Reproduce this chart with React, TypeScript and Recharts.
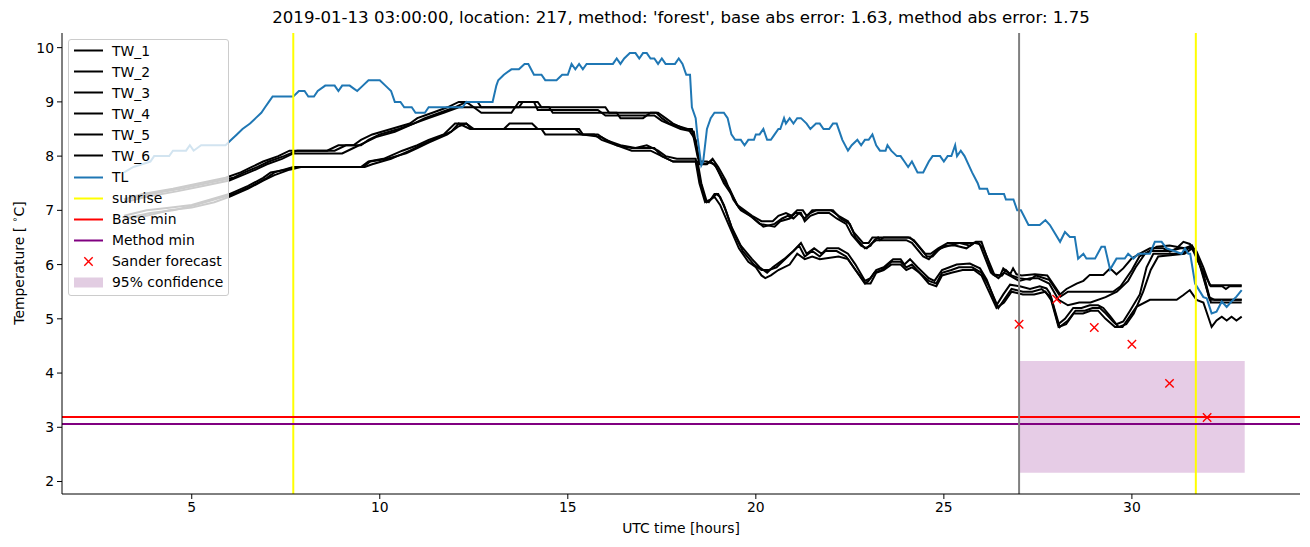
import React from 'react';
import {
  ComposedChart, Line, Scatter, XAxis, YAxis, ReferenceLine, ReferenceArea,
} from 'recharts';

// hours (UTC) vs temperature
const tw1: [number, number][] = [[3.2,7.2],[3.7,7.3],[4.5,7.4],[5.2,7.5],[5.9,7.6],[6.3,7.7],[6.6,7.8],[6.9,7.9],[7.3,8.0],[7.6,8.1],[8.6,8.1],[8.9,8.2],[9.3,8.2],[9.5,8.3],[9.8,8.4],[10.3,8.5],[10.8,8.6],[11.0,8.7],[11.4,8.8],[11.8,8.9],[12.1,9.0],[12.6,9.0],[12.7,8.9],[13.6,8.9],[13.7,9.0],[14.2,9.0],[14.3,8.9],[16.0,8.9],[16.1,8.8],[17.4,8.8],[17.6,8.7],[17.8,8.6],[18.1,8.5],[18.3,8.5],[18.45,8.0],[18.5,7.9],[18.7,7.9],[18.9,7.85],[19.1,7.6],[19.3,7.4],[19.5,7.1],[19.7,7.0],[19.9,6.9],[20.15,6.8],[20.45,6.8],[20.6,6.9],[20.8,6.95],[20.95,6.9],[21.1,7.0],[21.25,7.0],[21.35,6.9],[21.45,6.95],[21.6,7.0],[22.0,7.0],[22.2,6.9],[22.45,6.8],[22.6,6.6],[22.85,6.4],[23.0,6.4],[23.1,6.5],[23.2,6.5],[24.05,6.5],[24.2,6.45],[24.5,6.2],[24.65,6.2],[24.85,6.3],[25.1,6.4],[25.4,6.4],[25.7,6.35],[25.85,6.42],[26.0,6.42],[26.3,5.82],[26.5,5.8],[26.58,5.93],[26.76,5.82],[26.84,5.93],[26.93,5.82],[27.07,5.8],[27.42,5.82],[27.75,5.8],[27.85,5.7],[28.09,5.45],[28.26,5.55],[28.53,5.65],[28.71,5.7],[28.88,5.81],[29.24,5.81],[29.42,5.93],[29.59,5.82],[29.77,5.93],[29.99,6.11],[30.21,6.2],[30.48,6.3],[30.83,6.3],[31.01,6.24],[31.19,6.3],[31.37,6.42],[31.54,6.38],[31.72,6.24],[31.9,5.95],[32.07,5.62],[32.92,5.62]];
const tw2: [number, number][] = [[3.2,7.2],[3.9,7.3],[4.7,7.4],[5.4,7.5],[6.1,7.6],[6.4,7.7],[6.75,7.8],[7.05,7.9],[7.45,8.0],[7.8,8.1],[8.8,8.1],[9.1,8.2],[9.5,8.2],[9.7,8.3],[10.0,8.4],[10.5,8.5],[10.9,8.6],[11.2,8.7],[11.6,8.8],[12.0,8.9],[12.3,9.0],[12.5,8.9],[12.7,8.8],[13.5,8.8],[13.6,8.9],[14.5,8.9],[14.6,8.8],[16.3,8.8],[16.4,8.7],[17.0,8.7],[17.2,8.8],[17.35,8.8],[17.5,8.7],[17.7,8.6],[18.2,8.5],[18.4,8.3],[18.5,7.9],[18.65,7.85],[18.8,7.9],[18.95,7.8],[19.15,7.5],[19.35,7.3],[19.55,7.05],[19.75,6.95],[19.95,6.85],[20.2,6.7],[20.5,6.75],[20.7,6.85],[20.85,6.9],[21.0,6.85],[21.15,6.95],[21.3,6.85],[21.5,7.0],[22.05,7.0],[22.25,6.85],[22.5,6.75],[22.65,6.5],[22.9,6.3],[23.05,6.35],[23.15,6.45],[23.25,6.5],[23.3,6.45],[23.4,6.5],[24.1,6.5],[24.25,6.4],[24.55,6.15],[24.7,6.15],[24.9,6.3],[25.15,6.35],[25.43,6.4],[25.75,6.4],[25.9,6.4],[26.05,6.3],[26.35,5.8],[26.55,5.8],[26.65,5.9],[26.8,5.8],[27.0,5.75],[27.29,5.72],[27.45,5.8],[27.8,5.72],[28.1,5.41],[28.3,5.5],[28.6,5.5],[29.5,5.5],[29.7,5.6],[30.0,5.9],[30.2,6.15],[30.5,6.25],[31.0,6.25],[31.3,6.3],[31.6,6.3],[31.8,6.0],[32.1,5.6],[32.4,5.6],[32.5,5.55],[32.6,5.6],[32.92,5.6]];
const tw3: [number, number][] = [[3.2,7.15],[3.8,7.25],[4.6,7.35],[5.3,7.45],[6.0,7.55],[6.35,7.65],[6.7,7.75],[7.0,7.85],[7.4,7.95],[7.7,8.05],[9.0,8.05],[9.3,8.15],[9.6,8.25],[9.9,8.35],[10.4,8.45],[10.9,8.6],[11.3,8.7],[11.7,8.8],[12.1,8.9],[13.7,8.9],[13.8,9.0],[14.1,9.0],[14.2,8.85],[15.8,8.85],[16.0,8.75],[17.3,8.75],[17.5,8.65],[18.0,8.5],[18.35,8.45],[18.5,7.85],[18.7,7.85],[18.85,7.95],[19.0,7.8],[19.2,7.55],[19.4,7.2],[19.6,7.0],[19.85,6.9],[20.1,6.75],[20.5,6.7],[20.65,6.8],[20.9,6.85],[21.05,6.95],[21.2,6.95],[21.3,6.8],[21.45,6.9],[21.65,6.95],[21.95,6.95],[22.15,6.85],[22.4,6.75],[22.55,6.55],[22.8,6.35],[22.95,6.3],[23.1,6.4],[23.2,6.45],[24.0,6.45],[24.15,6.4],[24.45,6.15],[24.6,6.1],[24.8,6.25],[25.05,6.35],[25.3,6.35],[25.6,6.3],[25.8,6.4],[25.95,6.38],[26.25,5.85],[26.45,5.75],[26.6,5.85],[26.8,5.78],[27.0,5.7],[27.3,5.75],[27.5,5.75],[27.8,5.65],[28.05,5.35],[28.3,5.25],[28.6,5.3],[28.9,5.3],[29.3,5.4],[29.6,5.5],[29.9,5.7],[30.1,5.95],[30.35,6.2],[30.66,6.33],[31.0,6.35],[31.4,6.3],[31.6,6.35],[31.8,6.0],[32.05,5.4],[32.2,5.35],[32.5,5.35],[32.92,5.35]];
const tw4: [number, number][] = [[3.2,6.9],[3.8,7.0],[4.4,7.05],[5.0,7.1],[5.5,7.2],[6.0,7.3],[6.5,7.45],[6.9,7.6],[7.1,7.7],[7.5,7.75],[7.75,7.8],[9.5,7.8],[9.7,7.9],[10.1,7.95],[10.6,8.1],[11.0,8.2],[11.3,8.3],[11.7,8.4],[12.0,8.6],[12.3,8.6],[12.45,8.5],[13.3,8.5],[13.45,8.6],[14.05,8.6],[14.2,8.5],[15.3,8.5],[15.4,8.4],[15.8,8.4],[16.0,8.3],[16.4,8.2],[16.8,8.15],[17.1,8.2],[17.4,8.1],[17.6,8.0],[17.9,7.95],[18.4,7.95],[18.5,7.6],[18.65,7.2],[18.75,7.15],[18.9,7.3],[19.0,7.3],[19.15,7.1],[19.35,6.7],[19.6,6.35],[19.9,6.1],[20.1,5.95],[20.3,5.85],[20.45,5.95],[20.75,6.1],[21.0,6.25],[21.2,6.4],[21.35,6.2],[21.55,6.3],[21.75,6.2],[21.9,6.3],[22.2,6.3],[22.45,6.2],[22.65,6.0],[22.9,5.7],[23.05,5.75],[23.2,5.9],[23.4,5.95],[23.65,6.1],[23.85,6.1],[23.95,6.0],[24.1,6.1],[24.3,5.95],[24.6,5.75],[24.75,5.7],[24.95,5.9],[25.15,5.95],[25.34,6.0],[25.69,6.02],[25.96,5.93],[26.14,5.72],[26.4,5.25],[26.58,5.45],[26.76,5.63],[27.02,5.6],[27.29,5.55],[27.55,5.6],[27.73,5.56],[27.82,5.47],[28.04,4.9],[28.22,5.0],[28.44,5.2],[28.66,5.2],[28.88,5.25],[29.1,5.25],[29.24,5.2],[29.42,5.05],[29.59,4.9],[29.77,4.95],[29.95,5.15],[30.21,5.45],[30.39,5.95],[30.57,6.2],[31.35,6.2],[31.54,6.33],[31.72,6.2],[31.9,5.8],[32.07,5.35],[32.92,5.35]];
const tw5: [number, number][] = [[3.2,6.85],[3.9,6.95],[4.5,7.0],[5.1,7.1],[5.6,7.2],[6.1,7.3],[6.6,7.45],[7.0,7.6],[7.2,7.7],[7.7,7.8],[9.6,7.8],[9.8,7.85],[10.3,7.95],[10.8,8.1],[11.1,8.2],[11.4,8.3],[11.9,8.45],[12.1,8.6],[12.4,8.5],[15.2,8.5],[15.35,8.4],[15.9,8.35],[16.3,8.2],[16.7,8.15],[17.3,8.15],[17.5,8.0],[17.8,7.9],[18.45,7.9],[18.55,7.5],[18.7,7.15],[18.8,7.2],[18.95,7.3],[19.05,7.25],[19.2,7.0],[19.4,6.6],[19.65,6.25],[19.95,6.0],[20.15,5.9],[20.35,5.9],[20.55,5.95],[20.85,6.15],[21.15,6.35],[21.3,6.15],[21.5,6.25],[21.7,6.15],[21.85,6.25],[22.15,6.25],[22.4,6.15],[22.6,5.95],[22.9,5.65],[23.0,5.7],[23.15,5.85],[23.35,5.9],[23.6,6.05],[23.85,6.05],[24.0,5.95],[24.15,6.0],[24.35,5.85],[24.6,5.7],[24.8,5.65],[24.95,5.85],[25.2,5.9],[25.4,5.95],[25.75,5.95],[26.0,5.85],[26.2,5.6],[26.45,5.2],[26.65,5.4],[26.8,5.55],[27.1,5.5],[27.35,5.5],[27.6,5.55],[27.85,5.4],[28.08,4.85],[28.3,4.97],[28.5,5.15],[28.75,5.15],[28.95,5.2],[29.15,5.2],[29.3,5.1],[29.5,4.95],[29.65,4.85],[29.85,4.9],[30.05,5.1],[30.3,5.5],[30.5,5.9],[30.7,6.15],[31.4,6.2],[31.6,6.3],[31.75,6.15],[31.95,5.7],[32.1,5.3],[32.92,5.3]];
const tw6: [number, number][] = [[3.2,6.85],[3.8,6.9],[4.4,7.0],[5.0,7.05],[5.6,7.15],[6.0,7.25],[6.5,7.4],[6.9,7.55],[7.2,7.65],[7.6,7.75],[7.9,7.8],[9.55,7.8],[9.75,7.9],[10.2,7.95],[10.7,8.05],[11.0,8.15],[11.3,8.25],[11.8,8.4],[12.1,8.55],[12.3,8.6],[12.5,8.5],[14.3,8.5],[14.4,8.4],[15.7,8.4],[15.9,8.3],[16.3,8.2],[16.7,8.1],[17.2,8.1],[17.5,8.0],[17.8,7.9],[18.4,7.9],[18.5,7.5],[18.65,7.15],[18.8,7.2],[18.9,7.25],[19.05,7.1],[19.3,6.7],[19.55,6.3],[19.8,6.05],[20.0,5.95],[20.15,5.8],[20.25,5.75],[20.4,5.8],[20.6,5.9],[20.9,6.0],[21.1,6.2],[21.3,6.1],[21.5,6.15],[21.7,6.1],[22.2,6.15],[22.45,6.1],[22.65,5.9],[22.92,5.65],[23.05,5.65],[23.2,5.85],[23.4,5.9],[23.6,6.0],[23.85,6.0],[24.0,5.9],[24.15,5.95],[24.35,5.85],[24.6,5.65],[24.8,5.6],[24.95,5.8],[25.2,5.85],[25.5,5.9],[25.8,5.9],[26.0,5.8],[26.2,5.5],[26.4,5.2],[26.6,5.3],[26.8,5.5],[27.1,5.45],[27.4,5.45],[27.7,5.5],[27.85,5.35],[28.05,4.85],[28.25,4.9],[28.45,5.1],[28.7,5.1],[28.9,5.15],[29.1,5.15],[29.3,5.0],[29.55,4.85],[29.75,4.85],[29.95,5.05],[30.12,5.22],[30.48,5.35],[31.19,5.35],[31.37,5.44],[31.54,5.53],[31.72,5.35],[31.9,5.3],[32.12,4.85],[32.25,4.97],[32.39,5.04],[32.52,4.97],[32.65,5.04],[32.78,4.97],[32.92,5.04]];
const tl: [number, number][] = [[3.2,7.7],[3.45,7.8],[3.9,7.9],[4.0,8.0],[4.4,8.0],[4.5,8.1],[4.85,8.1],[4.95,8.2],[5.05,8.1],[5.25,8.2],[5.9,8.2],[6.05,8.3],[6.2,8.4],[6.35,8.5],[6.55,8.6],[6.7,8.7],[6.85,8.8],[6.95,8.9],[7.05,9.0],[7.15,9.1],[7.7,9.1],[7.85,9.2],[8.0,9.2],[8.1,9.1],[8.25,9.1],[8.35,9.2],[8.55,9.3],[8.8,9.3],[8.9,9.2],[9.0,9.3],[9.2,9.3],[9.3,9.25],[9.4,9.2],[9.55,9.3],[9.7,9.4],[10.0,9.4],[10.15,9.3],[10.3,9.2],[10.4,9.0],[10.55,9.0],[10.65,8.9],[10.85,8.9],[10.95,8.8],[11.2,8.8],[11.3,8.9],[12.2,8.9],[12.3,9.0],[13.0,9.0],[13.1,9.3],[13.15,9.4],[13.3,9.5],[13.5,9.6],[13.7,9.6],[13.85,9.7],[13.95,9.7],[14.1,9.5],[14.3,9.5],[14.4,9.4],[14.7,9.4],[14.85,9.5],[15.0,9.5],[15.1,9.7],[15.2,9.6],[15.3,9.7],[15.4,9.6],[15.5,9.7],[16.2,9.7],[16.3,9.8],[16.4,9.7],[16.5,9.8],[16.65,9.9],[16.8,9.9],[16.9,9.8],[17.0,9.9],[17.1,9.9],[17.2,9.8],[17.3,9.8],[17.4,9.7],[17.5,9.8],[17.6,9.7],[17.85,9.7],[17.95,9.8],[18.05,9.7],[18.15,9.5],[18.25,9.5],[18.3,8.9],[18.4,8.7],[18.45,8.35],[18.55,7.83],[18.6,7.9],[18.7,8.5],[18.8,8.7],[18.9,8.8],[19.15,8.8],[19.25,8.7],[19.35,8.4],[19.45,8.3],[19.6,8.3],[19.7,8.2],[19.8,8.3],[19.95,8.3],[20.0,8.4],[20.1,8.4],[20.2,8.5],[20.3,8.3],[20.4,8.3],[20.5,8.4],[20.6,8.5],[20.65,8.5],[20.75,8.7],[20.8,8.6],[20.9,8.7],[21.0,8.6],[21.1,8.7],[21.2,8.7],[21.35,8.6],[21.45,8.5],[21.6,8.6],[21.7,8.6],[21.8,8.5],[21.95,8.5],[22.05,8.6],[22.15,8.6],[22.3,8.3],[22.45,8.1],[22.55,8.2],[22.7,8.3],[22.8,8.2],[22.9,8.3],[23.0,8.3],[23.1,8.4],[23.2,8.2],[23.3,8.1],[23.45,8.1],[23.5,8.2],[23.6,8.1],[23.75,8.0],[23.85,8.0],[23.95,7.9],[24.05,7.8],[24.15,7.9],[24.3,7.7],[24.45,7.7],[24.6,7.9],[24.7,8.0],[24.9,8.0],[25.0,7.9],[25.1,8.0],[25.2,8.0],[25.3,8.2],[25.35,8.0],[25.45,8.1],[25.55,8.0],[25.75,7.7],[25.9,7.5],[25.95,7.4],[26.15,7.4],[26.2,7.3],[26.6,7.3],[26.65,7.2],[26.85,7.2],[26.95,7.0],[27.05,7.0],[27.25,6.73],[27.55,6.73],[27.7,6.82],[27.82,6.73],[28.09,6.42],[28.22,6.6],[28.35,6.51],[28.48,6.51],[28.57,6.11],[28.71,6.2],[28.79,6.11],[29.02,6.11],[29.19,6.33],[29.28,6.33],[29.42,5.91],[29.59,6.11],[29.81,6.11],[29.9,6.2],[30.04,6.11],[30.17,6.2],[30.48,6.2],[30.61,6.42],[30.79,6.42],[30.92,6.3],[31.32,6.2],[31.41,6.3],[31.5,6.2],[31.55,6.2],[31.68,5.65],[31.9,5.4],[31.99,5.38],[32.12,5.1],[32.25,5.13],[32.39,5.32],[32.52,5.22],[32.65,5.32],[32.78,5.41],[32.92,5.53]];

const forecast: [number, number][] = [[27, 4.9], [28, 5.36], [29, 4.84], [30, 4.53], [31, 3.81], [32, 3.18]];
const sunrise = [7.7, 31.7];
const forecastStart = 27.0;
const baseMin = 3.19;
const methodMin = 3.06;
const confidenceHours = [27.0, 33.0];
const confidenceBand = [2.16, 4.22];

const xTicks = [5, 10, 15, 20, 25, 30];
const yTicks = [2, 3, 4, 5, 6, 7, 8, 9, 10];
const twNames = ['TW_1', 'TW_2', 'TW_3', 'TW_4', 'TW_5', 'TW_6'];
const twSeries = [tw1, tw2, tw3, tw4, tw5, tw6];

const title = "2019-01-13 03:00:00, location: 217, method: 'forest', base abs error: 1.63, method abs error: 1.75";

const FONT = '"DejaVu Sans", sans-serif';
const toPts = (a: [number, number][]) => a.map(([x, y]) => ({ x, y }));

const XMark = (props: any) => {
  const { cx, cy } = props;
  const s = 4.2;
  return (
    <path d={`M${cx - s},${cy - s}L${cx + s},${cy + s}M${cx - s},${cy + s}L${cx + s},${cy - s}`}
      stroke="#ff0000" strokeWidth={1.4} fill="none" />
  );
};

const legendItems = [
  ...twNames.map((n) => ({ name: n, kind: 'line', color: '#000000' })),
  { name: 'TL', kind: 'line', color: '#1f77b4' },
  { name: 'sunrise', kind: 'line', color: '#ffff00' },
  { name: 'Base min', kind: 'line', color: '#ff0000' },
  { name: 'Method min', kind: 'line', color: '#800080' },
  { name: 'Sander forecast', kind: 'x', color: '#ff0000' },
  { name: '95% confidence', kind: 'patch', color: '#e2cde2' },
];

export default function App() {
  const tick = { fill: '#000', fontSize: 13.9, fontFamily: FONT };
  return (
    <div style={{ position: 'relative', width: 1294, height: 531, fontFamily: FONT }}>
      <div style={{ position: 'absolute', left: 54, width: 1238, top: 0, textAlign: 'center', fontSize: 16.6, color: '#000', lineHeight: '20px' }}>
        {title}
      </div>
      <div style={{ position: 'absolute', left: 54, width: 1238, top: 512, textAlign: 'center', fontSize: 13.9, color: '#000' }}>
        UTC time [hours]
      </div>
      <div style={{ position: 'absolute', left: 10, top: 255, width: 0, height: 0 }}>
        <div style={{ position: 'absolute', transform: 'translate(-50%, -50%) rotate(-90deg)', whiteSpace: 'nowrap', fontSize: 13.9, color: '#000' }}>
          Temperature [ <sup style={{ fontSize: 9.5 }}>∘</sup>C]
        </div>
      </div>
      <ComposedChart width={1294} height={531} margin={{ top: 25, right: 2, bottom: 15, left: 4 }}>
        <XAxis dataKey="x" type="number" domain={[1.55, 34.47]} ticks={xTicks} allowDataOverflow
          height={30} tickSize={5} tickMargin={3} tick={tick} stroke="#000" strokeWidth={1} />
        <XAxis xAxisId="top" orientation="top" type="number" domain={[1.55, 34.47]} height={0}
          tick={false} tickLine={false} stroke="#000" />
        <YAxis type="number" domain={[1.77, 10.27]} ticks={yTicks} allowDataOverflow width={50}
          tickSize={5} tickMargin={3} tick={tick} stroke="#000" />
        <YAxis yAxisId="right" orientation="right" type="number" domain={[1.77, 10.27]} width={0}
          tick={false} tickLine={false} stroke="#000" />
        <ReferenceArea x1={confidenceHours[0]} x2={confidenceHours[1]} y1={confidenceBand[0]} y2={confidenceBand[1]}
          fill="#800080" fillOpacity={0.2} stroke="none" ifOverflow="hidden" />
        {twSeries.map((s, i) => (
          <Line key={twNames[i]} data={toPts(s)} dataKey="y" stroke="#000000" strokeWidth={2}
            dot={false} isAnimationActive={false} />
        ))}
        <Line data={toPts(tl)} dataKey="y" stroke="#1f77b4" strokeWidth={2} dot={false} isAnimationActive={false} />
        {sunrise.map((h) => (
          <ReferenceLine key={h} x={h} stroke="#ffff00" strokeWidth={2} />
        ))}
        <ReferenceLine y={baseMin} stroke="#ff0000" strokeWidth={2} />
        <ReferenceLine y={methodMin} stroke="#800080" strokeWidth={2} />
        <ReferenceLine x={forecastStart} stroke="#808080" strokeWidth={2} />
        <Scatter data={toPts(forecast)} dataKey="y" shape={<XMark />} isAnimationActive={false} />
      </ComposedChart>
      <div style={{
        position: 'absolute', left: 60, top: 31, width: 159, padding: '0 0 2px 0',
        background: 'rgba(255,255,255,0.8)', border: '1px solid #cccccc', borderRadius: 3,
      }}>
        {legendItems.map((it) => (
          <div key={it.name} style={{ height: 21.08, display: 'flex', alignItems: 'center', fontSize: 13.9, color: '#000' }}>
            <svg width={43} height={21} style={{ flex: 'none' }}>
              {it.kind === 'line' && <line x1={5} x2={34} y1={10.5} y2={10.5} stroke={it.color} strokeWidth={2} />}
              {it.kind === 'x' && <path d="M15.3,6.3L23.7,14.7M15.3,14.7L23.7,6.3" stroke={it.color} strokeWidth={1.4} />}
              {it.kind === 'patch' && <rect x={5} y={5.5} width={29} height={10} fill={it.color} />}
            </svg>
            <span>{it.name}</span>
          </div>
        ))}
      </div>
    </div>
  );
}
